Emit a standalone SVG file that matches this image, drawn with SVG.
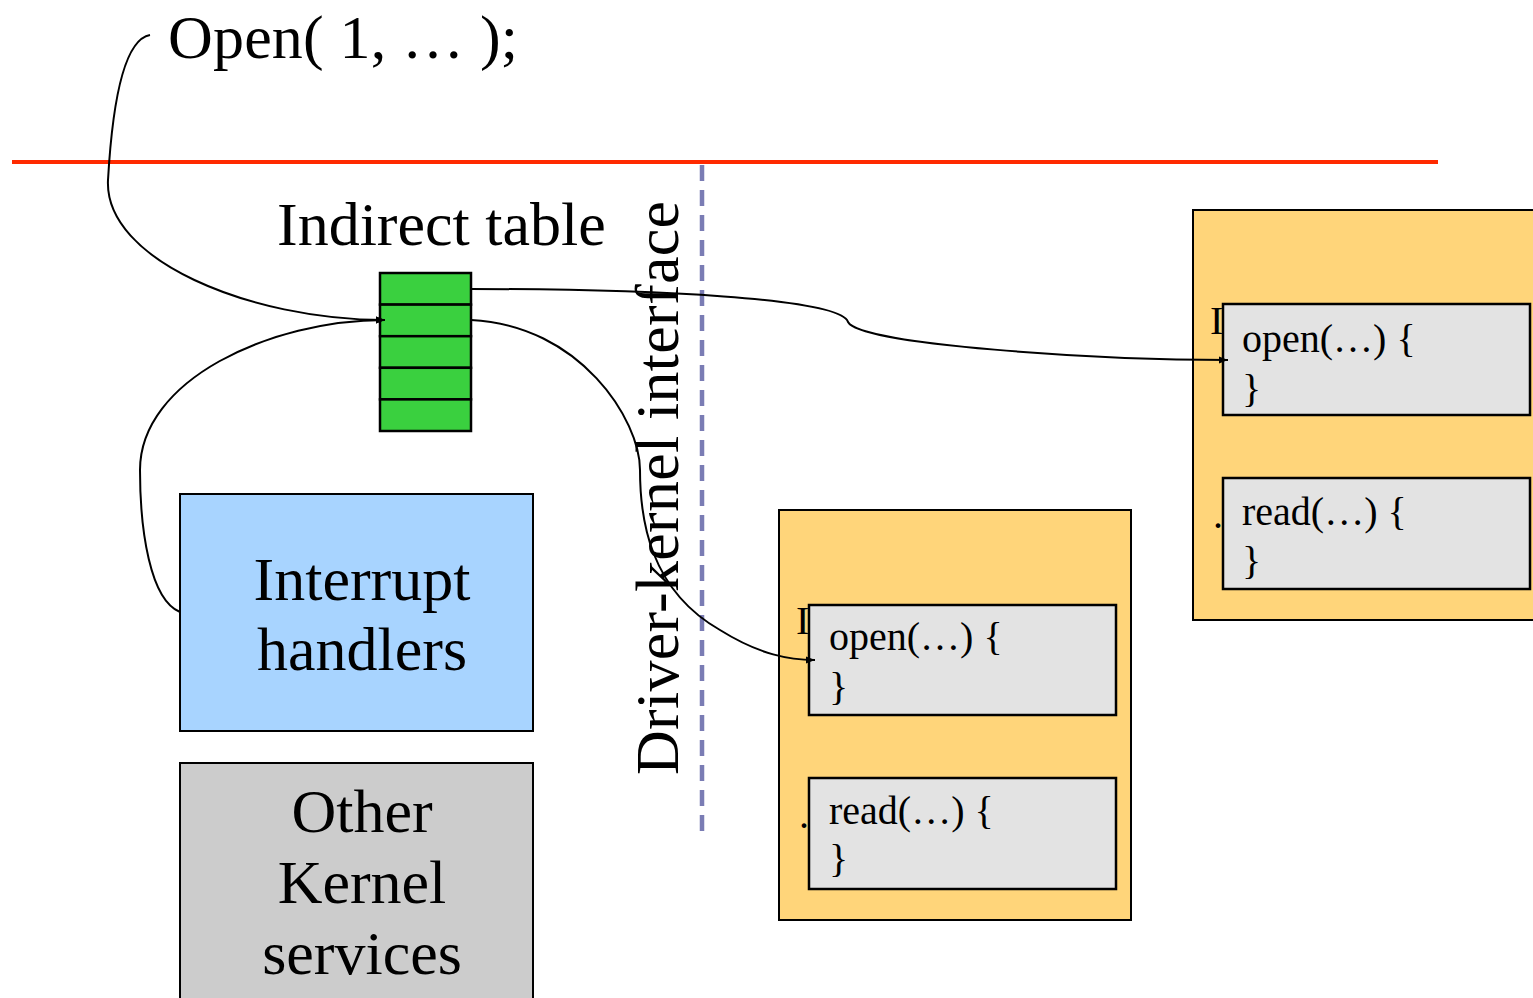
<svg xmlns="http://www.w3.org/2000/svg" width="1533" height="998" viewBox="0 0 1533 998">
<defs>
<marker id="ah" viewBox="0 0 10 10" refX="10" refY="5" markerWidth="9" markerHeight="9" markerUnits="userSpaceOnUse" orient="auto">
<path d="M0,1 L10,5 L0,9 z" fill="#000"/>
</marker>
<style>
.t{font-family:"Liberation Serif","Times New Roman",serif;fill:#000}
.big{font-size:62px}
.code{font-size:40px}
.box{stroke:#000;stroke-width:2}
.cell{fill:#3ad03f;stroke:#000;stroke-width:2.5}
.orange{fill:#ffd57a;stroke:#000;stroke-width:2}
.gray{fill:#e3e3e3;stroke:#000;stroke-width:2.5}
.conn{fill:none;stroke:#000;stroke-width:2;marker-end:url(#ah)}
</style>
</defs>
<rect width="1533" height="998" fill="#fff"/>

<g id="open-call"><text class="t big" x="168" y="58" textLength="350">Open( 1, … );</text></g>

<g id="boundary"><line x1="12" y1="162" x2="1438" y2="162" stroke="#ff2a00" stroke-width="4"/></g>

<g id="interface-line"><line x1="702" y1="165" x2="702" y2="832" stroke="#7a7cb4" stroke-width="4.5" stroke-dasharray="16 9"/></g>

<g id="indirect-table">
<text class="t big" x="277" y="245">Indirect table</text>
<rect class="cell" x="380" y="273" width="91" height="31.6"/>
<rect class="cell" x="380" y="304.6" width="91" height="31.6"/>
<rect class="cell" x="380" y="336.2" width="91" height="31.6"/>
<rect class="cell" x="380" y="367.8" width="91" height="31.6"/>
<rect class="cell" x="380" y="399.4" width="91" height="31.6"/>
</g>

<g id="interface-label"><text class="t big" transform="translate(678,775) rotate(-90)" textLength="574">Driver-kernel interface</text></g>

<g id="interrupt-handlers">
<rect class="box" x="180" y="494" width="353" height="237" fill="#a8d4ff"/>
<text class="t big" x="362" y="600" text-anchor="middle">Interrupt</text>
<text class="t big" x="362" y="670" text-anchor="middle">handlers</text>
</g>

<g id="other-services">
<rect class="box" x="180" y="763" width="353" height="240" fill="#cccccc"/>
<text class="t big" x="362" y="832" text-anchor="middle">Other</text>
<text class="t big" x="362" y="903" text-anchor="middle">Kernel</text>
<text class="t big" x="362" y="974" text-anchor="middle">services</text>
</g>

<g id="driver-1">
<rect class="orange" x="779" y="510" width="352" height="410"/>
<text class="t code" x="796" y="634" font-size="44">I</text>
<text class="t code" x="799" y="828">.</text>
<rect class="gray" x="809" y="605" width="307" height="110"/>
<text class="t code" x="829" y="650">open(…) {</text>
<text class="t code" x="829" y="700">}</text>
<rect class="gray" x="809" y="778" width="307" height="111"/>
<text class="t code" x="829" y="824">read(…) {</text>
<text class="t code" x="829" y="872">}</text>
</g>

<g id="driver-2">
<rect class="orange" x="1193" y="210" width="345" height="410"/>
<text class="t code" x="1210" y="334" font-size="44">I</text>
<text class="t code" x="1213" y="528">.</text>
<rect class="gray" x="1223" y="304" width="307" height="111"/>
<text class="t code" x="1242" y="352">open(…) {</text>
<text class="t code" x="1242" y="402">}</text>
<rect class="gray" x="1223" y="478" width="307" height="111"/>
<text class="t code" x="1242" y="525">read(…) {</text>
<text class="t code" x="1242" y="574">}</text>
</g>

<g id="connectors">
<path class="conn" d="M150,35 C122,40 112,110 108,180 C104,260 250,320 385,320"/>
<path class="conn" d="M180,612 C150,600 140,530 140,470 C140,380 270,320 385,320"/>
<path class="conn" d="M471,289 C650,289 840,298 848,322 C860,345 1100,360 1228,360"/>
<path class="conn" d="M471,320 C580,325 640,420 640,470 C640,520 650,590 720,630 C760,655 790,660 815,660"/>
</g>
</svg>
